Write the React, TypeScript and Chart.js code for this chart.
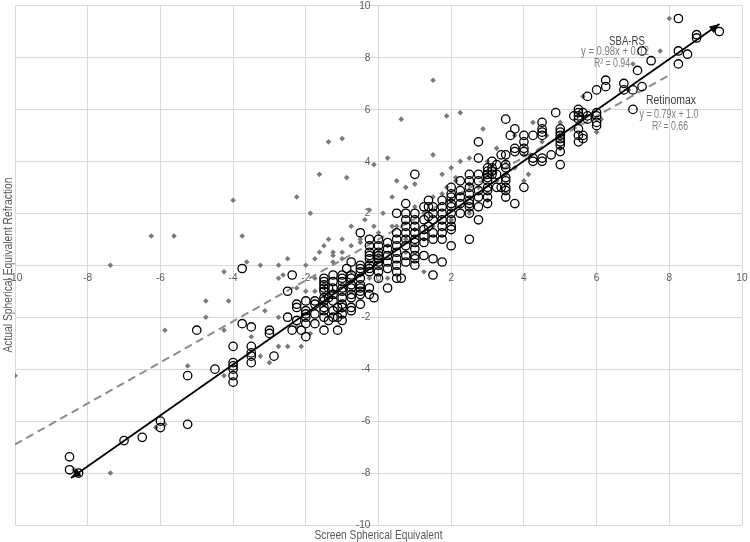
import { useEffect, useRef } from "react";
import { Chart, registerables } from "chart.js";

Chart.register(...registerables);

const FONT = "'Liberation Sans', Arial, sans-serif";

const xTicks = [-10, -8, -6, -4, -2, 0, 2, 4, 6, 8, 10];
const yTicks = [-10, -8, -6, -4, -2, 0, 2, 4, 6, 8, 10];

const xTitle = "Screen Spherical Equivalent";
const yTitle = "Actual Spherical Equivalent Refraction";

const sbaLabel = ["SBA-RS", "y = 0.98x + 0.12", "R² = 0.94"];
const retLabel = ["Retinomax", "y = 0.79x + 1.0", "R² = 0.66"];

// SBA-RS: [screen SE, actual SE]
const sbaRS: number[][] = [
  [-8.5, -7.375], [-8.5, -7.875], [-8.25, -8],
  [-7, -6.75], [-6.5, -6.625], [-6, -6], [-6, -6.25],
  [-5.25, -6.125], [-5.25, -4.25], [-5, -2.5], [-4.5, -4],
  [-4, -3.125], [-4, -3.75], [-4, -3.875], [-4, -4], [-4, -4.25], [-4, -4.5],
  [-3.75, -2.25], [-3.75, -0.125],
  [-3.5, -2.375], [-3.5, -3.125], [-3.5, -3.375], [-3.5, -3.5], [-3.5, -3.75],
  [-3, -2.5], [-3, -2.625], [-2.875, -3.5],
  [-2.5, -1], [-2.5, -2], [-2.375, -0.375], [-2.375, -2.5],
  [-2.25, -1.5], [-2.25, -1.625], [-2.25, -2.125], [-2.125, -2.5],
  [-2, -1.375], [-2, -1.75], [-2, -1.875], [-2, -2], [-2, -2.25], [-2, -2.75],
  [-1.75, -1.375], [-1.75, -1.5], [-1.75, -1.875], [-1.75, -2.25],
  [-1.5, -0.5], [-1.5, -0.625], [-1.5, -0.75], [-1.5, -0.875], [-1.5, -1], [-1.5, -1.25], [-1.5, -1.375], [-1.5, -1.625], [-1.5, -1.75], [-1.5, -2], [-1.5, -2.5],
  [-1.375, -0.875], [-1.375, -1.25], [-1.375, -2.125],
  [-1.25, -0.375], [-1.25, -0.625], [-1.25, -0.875], [-1.25, -1.125], [-1.25, -1.375], [-1.25, -1.75], [-1.25, -2],
  [-1.125, -1.625], [-1.125, -2], [-1.125, -2.5],
  [-1, -0.375], [-1, -0.5], [-1, -0.625], [-1, -0.875], [-1, -1], [-1, -1.25], [-1, -1.5], [-1, -1.625], [-1, -1.875], [-1, -2.125],
  [-0.875, -0.125], [-0.75, 0.125],
  [-0.75, -0.375], [-0.75, -0.5], [-0.75, -0.75], [-0.75, -0.875], [-0.75, -1.125], [-0.75, -1.25], [-0.75, -1.625], [-0.75, -1.75],
  [-0.5, 1.25], [-0.5, 0], [-0.5, -0.125], [-0.5, -0.25], [-0.5, -0.5], [-0.5, -0.75], [-0.5, -0.875], [-0.5, -1], [-0.5, -1.125], [-0.5, -1.5],
  [-0.25, 1], [-0.25, 0.75], [-0.25, 0.5], [-0.25, 0.375], [-0.25, 0.25], [-0.25, 0], [-0.25, -0.125], [-0.25, -0.25], [-0.25, -0.875], [-0.25, -1.125],
  [-0.125, -1.25],
  [0, 1], [0, 0.75], [0, 0.5], [0, 0.375], [0, 0.25], [0, 0.125], [0, 0], [0, -0.25], [0, -0.5],
  [0.25, 0.875], [0.25, 0.625], [0.25, 0.375], [0.25, 0.125], [0.25, -0.125], [0.25, -0.875],
  [0.5, 2], [0.5, 1.25], [0.5, 1], [0.5, 0.75], [0.5, 0.5], [0.5, 0.25], [0.5, 0], [0.5, -0.25], [0.5, -0.5], [0.625, -0.5],
  [0.75, 2.375], [0.75, 2], [0.75, 1.75], [0.75, 1.5], [0.75, 1.25], [0.75, 1], [0.75, 0.75], [0.75, 0.375], [0.75, 0.125],
  [1, 3.5], [1, 2], [1, 1.75], [1, 1.5], [1, 1.25], [1, 1], [1, 0.875], [1, 0.625], [1, 0.375], [1, 0.25], [1, 0],
  [1.25, 2.25], [1.25, 1.75], [1.25, 1.375], [1.25, 1.125], [1.25, 0.875], [1.25, 0.375],
  [1.375, 2.5], [1.375, 2.25], [1.375, 1.875], [1.375, 1.5],
  [1.5, 2.25], [1.5, 2], [1.5, 1.75], [1.5, 1.25], [1.5, 1], [1.5, 0.25], [1.5, -0.375],
  [1.75, 2.5], [1.75, 2.25], [1.75, 2], [1.75, 1.75], [1.75, 1.5], [1.75, 1.25], [1.75, 1], [1.75, 0.125],
  [2, 3], [2, 2.75], [2, 2.625], [2, 2.375], [2, 2.25], [2, 2], [2, 1.75], [2, 1.5], [2, 1.375], [2, 0.75],
  [2.25, 3.25], [2.25, 2.875], [2.25, 2.625], [2.25, 2.375], [2.25, 2],
  [2.5, 3.5], [2.5, 3.25], [2.5, 3], [2.5, 2.75], [2.5, 2.5], [2.5, 2.375], [2.5, 2.25], [2.5, 2], [2.5, 1],
  [2.75, 4.75], [2.75, 4.125], [2.75, 3.5], [2.75, 3.25], [2.75, 2.875], [2.75, 2.625], [2.75, 2.25], [2.75, 1.75],
  [3, 3.75], [3, 3.625], [3, 3.5], [3, 3.375], [3, 3.25], [3, 3], [3, 2.875], [3, 2.625], [3, 2.375],
  [3.125, 4], [3.125, 3.75], [3.125, 3.625], [3.125, 3.5],
  [3.25, 3.875], [3.25, 3.5], [3.25, 3],
  [3.375, 4.25], [3.375, 3],
  [3.5, 5.625], [3.5, 4.25], [3.5, 3.875], [3.5, 3.75], [3.5, 3.375], [3.5, 3.25], [3.5, 3], [3.5, 2.875], [3.5, 2.625],
  [3.625, 5], [3.75, 5.25], [3.75, 4.5], [3.75, 4.375], [3.75, 2.375],
  [4, 5], [4, 4.75], [4, 4.5], [4, 4.375], [4, 3],
  [4.25, 5], [4.25, 4.125], [4.25, 4],
  [4.5, 5.5], [4.5, 5.25], [4.5, 5.125], [4.5, 5], [4.5, 4.125], [4.5, 4],
  [4.75, 4.25], [4.875, 5.875],
  [5, 5.25], [5, 5.125], [5, 5], [5, 4.875], [5, 4.75], [5, 4.625], [5, 4.375], [5, 3.875],
  [5.375, 5.75],
  [5.5, 6], [5.5, 5.875], [5.5, 5.75], [5.5, 5.625], [5.5, 5.25], [5.5, 5], [5.5, 4.75],
  [5.625, 5.875], [5.625, 5], [5.625, 4.875],
  [5.75, 6.5], [5.75, 5.75], [5.75, 5.625],
  [6, 6.75], [6, 5.875], [6, 5.75], [6, 5.5], [6, 5.375],
  [6.25, 7.125], [6.25, 6.875],
  [6.75, 7], [6.75, 6.75], [7, 6.75], [7, 6], [7.125, 7.5], [7.25, 8.25], [7.25, 6.875], [7.5, 7.875],
  [8.25, 9.5], [8.25, 8.25], [8.25, 7.75], [8.5, 8.125], [8.75, 8.875], [8.75, 8.75], [9.375, 9],
];

// Retinomax: [screen SE, actual SE]
const retinomax: number[][] = [
  [-10, -4.25], [-8.375, -7.875], [-7.375, -8], [-6.125, -6.25], [-5.875, -6.125],
  [-7.375, 0], [-6.25, 1.125], [-5.625, 1.125],
  [-5.875, -2.5], [-5.25, -3.875], [-4.75, -1.375], [-4.125, -1.375], [-4.75, -2], [-4.25, -2.5], [-4.25, -4.25], [-4.25, -0.25],
  [-4, 2.5], [-3.75, 1.125], [-3.625, 0.125], [-3.25, 0], [-2.75, 0], [-2.5, 0.25],
  [-3.125, -1.75], [-3.25, -3.5], [-3, -3.75], [-2.75, -3.125], [-2.5, -3.125], [-2.125, -3.125], [-1.875, -2.625],
  [-2.75, -0.5], [-2.625, -0.375], [-2.25, -0.875],
  [-2.25, 2.625], [-1.875, 2], [-1.625, 3.5], [-1.375, 4.75], [-1, 4.875], [-0.875, 3.375], [-0.125, 3.875],
  [-1.375, 1], [-1, 1], [-1.625, 0.5], [-1.25, 0.5], [-1, 0.5], [-1.25, 0.375], [-1.25, 0.125], [-0.5, 1], [-0.5, 0.875],
  [0.25, 4.125], [0.5, 3.25], [0.375, 2.625], [0.625, 5.625], [1.5, 7.125], [1.875, 5.75], [2.25, 5.875], [1.5, 4.25],
  [1.875, 3], [2, 3.75], [2.125, 3.375], [2.125, 3.25], [2.875, 5.25], [3.75, 5], [4.625, 5], [4.125, 3.5],
  [5.625, 6.5], [6, 5.125], [6.125, 5.625], [6.875, 6.75], [7, 7.75], [7.75, 8.25], [8, 9.5],
  [0.25, -0.5], [1.25, -0.25],
  [-1.75, -1], [-1.25, -1], [-0.75, -0.25], [-0.25, -0.5], [0, 0.5], [0.25, 0.75], [0.5, 1.5], [0.75, 0.5],
  [1, 1.375], [1.25, 2], [1.5, 1.5], [1.75, 2.75], [2, 2.5], [2.25, 2.25], [2.5, 3.125], [2.75, 3], [3, 4],
  [3.25, 3.25], [3.5, 4], [3.75, 3.75], [4, 4.25], [4.5, 4.75], [5, 5.5], [-2, -1], [-1.5, -1.5], [-1, -1.75],
  [-0.5, -0.375], [-3.5, -2.75], [-2.75, -2], [-2.25, -2.375], [-1.75, -0.5], [-1, 0.25], [0, 1.25], [0.375, 1.5],
  [0.75, 1], [1, 2.25], [1.25, 1], [1.5, 2.625], [2, 1.75], [2.5, 2], [3, 2.5], [3.25, 4.5], [3.5, 3.5], [4, 3.25],
  [4.25, 5.5], [5, 4.5], [5.5, 5.5], [-0.25, 2.125], [0.125, 2], [-0.75, 1.5], [-0.375, 1.75], [0.75, 3], [1, 3.125],
  [1.75, 3.5], [2.5, 4.125], [2.25, 4], [-1.5, 0.75], [-0.75, 0.75], [-2, 0], [-1.75, 0.25], [-0.125, 1.5],
];

// Trend line end points (x, y)
const sbaTrend: number[][] = [[-8.46, -8.19], [9.38, 9.29]];
const retTrend: number[][] = [[-10, -6.9], [8, 7.32]];

const toPts = (a: number[][]) => a.map(([x, y]) => ({ x, y }));

// draw text squeezed horizontally to a target width (Calibri-like narrow look)
function fitText(ctx: any, text: string, x: number, y: number, width: number) {
  const w = ctx.measureText(text).width;
  const s = Math.min(1, width / w);
  ctx.save();
  ctx.translate(x, y);
  ctx.scale(s, 1);
  ctx.fillText(text, 0, 0);
  ctx.restore();
}

const textPlugin = {
  id: "customText",
  beforeDatasetsDraw(chart: any) {
    const { ctx, scales } = chart;
    const xs = scales.x, ys = scales.y;
    const x0 = xs.getPixelForValue(0), y0 = ys.getPixelForValue(0);
    ctx.save();
    ctx.font = "11.5px " + FONT;
    ctx.fillStyle = "#595959";
    ctx.textAlign = "right";
    ctx.textBaseline = "middle";
    yTicks.forEach((v) => fitText(ctx, String(v), x0 - 8, ys.getPixelForValue(v), ctx.measureText(String(v)).width * 0.88));
    ctx.textAlign = "center";
    ctx.textBaseline = "top";
    xTicks.forEach((v) => fitText(ctx, String(v), xs.getPixelForValue(v), y0 + 7, ctx.measureText(String(v)).width * 0.88));
    ctx.restore();
  },
  afterDatasetsDraw(chart: any) {
    const { ctx, scales } = chart;
    const xs = scales.x, ys = scales.y;
    const p0 = { x: xs.getPixelForValue(sbaTrend[0][0]), y: ys.getPixelForValue(sbaTrend[0][1]) };
    const p1 = { x: xs.getPixelForValue(sbaTrend[1][0]), y: ys.getPixelForValue(sbaTrend[1][1]) };
    const head = (tip: any, from: any) => {
      const ang = Math.atan2(tip.y - from.y, tip.x - from.x);
      const L = 10, W = 4;
      ctx.beginPath();
      ctx.moveTo(tip.x, tip.y);
      ctx.lineTo(tip.x - L * Math.cos(ang) + W * Math.sin(ang), tip.y - L * Math.sin(ang) - W * Math.cos(ang));
      ctx.lineTo(tip.x - L * Math.cos(ang) - W * Math.sin(ang), tip.y - L * Math.sin(ang) + W * Math.cos(ang));
      ctx.closePath();
      ctx.fill();
    };
    ctx.save();
    ctx.fillStyle = "#000";
    head(p1, p0);
    head(p0, p1);
    ctx.restore();
  },
  afterDraw(chart: any) {
    const { ctx, chartArea } = chart;
    ctx.save();
    ctx.fillStyle = "#595959";
    ctx.font = "13px " + FONT;
    ctx.textAlign = "center";
    ctx.textBaseline = "middle";
    fitText(ctx, xTitle, (chartArea.left + chartArea.right) / 2, 535, 128);
    ctx.save();
    ctx.translate(8, 265);
    ctx.rotate(-Math.PI / 2);
    fitText(ctx, yTitle, 0, 0, 175);
    ctx.restore();

    ctx.fillStyle = "#404040";
    ctx.font = "13.5px " + FONT;
    fitText(ctx, sbaLabel[0], 627, 41, 36);
    fitText(ctx, retLabel[0], 671, 100, 50);
    ctx.fillStyle = "#808080";
    ctx.font = "12px " + FONT;
    fitText(ctx, sbaLabel[1], 615, 52, 68);
    fitText(ctx, sbaLabel[2], 612, 64, 36);
    fitText(ctx, retLabel[1], 669, 115, 59);
    fitText(ctx, retLabel[2], 670, 127, 36);
    ctx.restore();
  },
};

export default function App() {
  const ref = useRef<HTMLCanvasElement | null>(null);
  useEffect(() => {
    if (!ref.current) return;
    const chart = new Chart(ref.current, {
      type: "scatter",
      data: {
        datasets: [
          {
            label: "SBA-RS",
            data: toPts(sbaRS),
            pointStyle: "circle",
            pointRadius: 4.2,
            borderWidth: 1.3,
            borderColor: "#000000",
            backgroundColor: "rgba(0,0,0,0)",
            order: 1,
          },
          {
            label: "SBA-RS trend",
            data: toPts(sbaTrend),
            showLine: true,
            pointRadius: 0,
            borderColor: "#000000",
            borderWidth: 1.8,
            order: 0,
          } as any,
          {
            label: "Retinomax",
            data: toPts(retinomax),
            pointStyle: "rectRot",
            pointRadius: 2.8,
            borderWidth: 0,
            borderColor: "#7a7a7a",
            backgroundColor: "#7a7a7a",
            order: 2,
          },
          {
            label: "Retinomax trend",
            data: toPts(retTrend),
            showLine: true,
            pointRadius: 0,
            borderColor: "#8c8c8c",
            borderWidth: 2,
            borderDash: [8, 5],
            order: 3,
          } as any,
        ],
      },
      options: {
        animation: false,
        responsive: false,
        devicePixelRatio: 1,
        layout: { padding: { left: 15, right: 8, top: 5, bottom: 17 } },
        plugins: { legend: { display: false }, tooltip: { enabled: false } },
        scales: {
          x: {
            type: "linear",
            min: -10,
            max: 10,
            position: { y: 0 } as any,
            ticks: { stepSize: 2, display: false },
            grid: { color: "#d9d9d9", drawTicks: false, lineWidth: 1 },
            border: { color: "#d9d9d9", width: 1 },
          },
          y: {
            type: "linear",
            min: -10,
            max: 10,
            position: { x: 0 } as any,
            ticks: { stepSize: 2, display: false },
            grid: { color: "#d9d9d9", drawTicks: false, lineWidth: 1 },
            border: { color: "#d9d9d9", width: 1 },
          },
        },
      },
      plugins: [textPlugin],
    });
    return () => chart.destroy();
  }, []);
  return (
    <div style={{ position: "fixed", left: 0, top: 0, width: 750, height: 542, background: "#fff" }}>
      <canvas ref={ref} width={750} height={542} style={{ width: 750, height: 542 }} />
    </div>
  );
}
